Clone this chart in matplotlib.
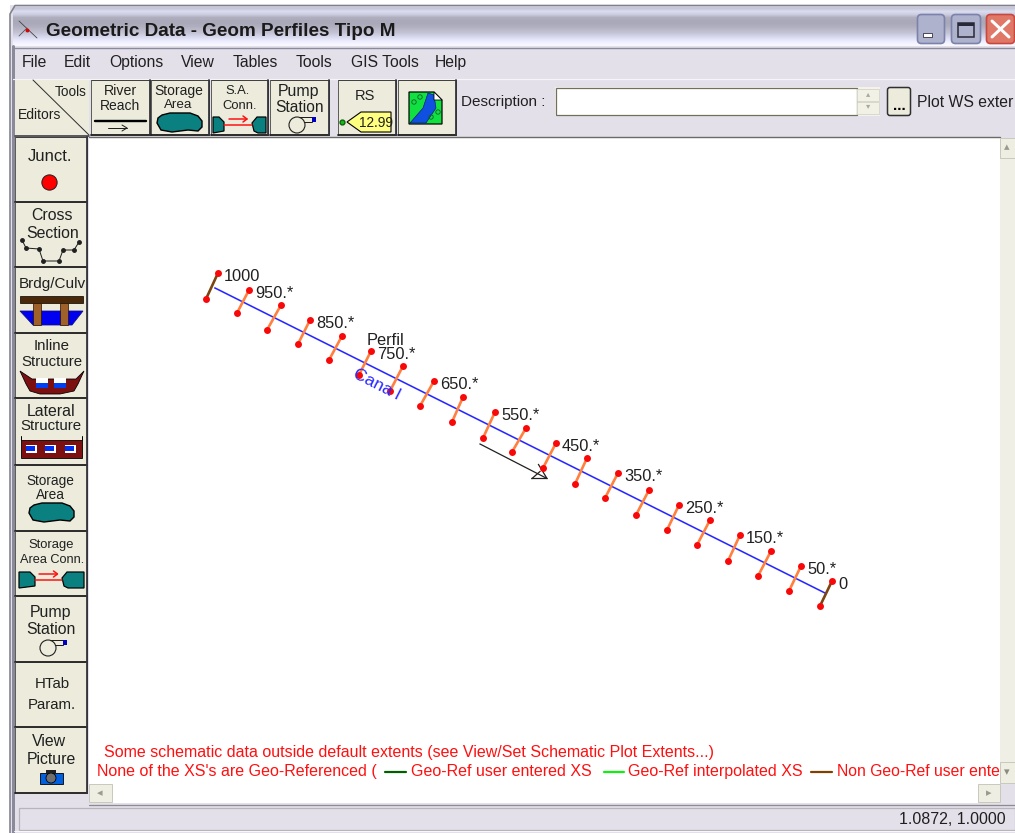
import numpy as np
import matplotlib
matplotlib.use("Agg")
import matplotlib.pyplot as plt
from matplotlib.patches import Rectangle, Polygon, Circle, FancyBboxPatch

W, H = 1015, 833
FONT = ["Liberation Sans", "DejaVu Sans"]

# ---- schematic data (screen units) ----
stations = [1000, 950, 900, 850, 800, 750, 700, 650, 600, 550, 500,
            450, 400, 350, 300, 250, 200, 150, 100, 50, 0]
xs_top_x = [218, 249, 281, 310, 342, 371, 403, 434, 463, 495, 526,
            556, 587, 618, 649, 679, 710, 740, 771, 801, 832]
xs_top_y = [273, 290, 305, 320, 336, 351, 366, 381, 397, 412, 428,
            443, 458, 473, 490, 505, 520, 535, 551, 566, 581]
xs_bot_x = [206, 237, 267, 298, 329, 359, 390, 420, 452, 483, 512,
            543, 575, 605, 636, 667, 697, 728, 758, 789, 820]
xs_bot_y = [299, 313, 330, 344, 360, 375, 391, 406, 422, 438, 452,
            468, 484, 498, 515, 530, 545, 561, 576, 591, 606]
xs_labels = {1000: "1000", 950: "950.*", 850: "850.*", 750: "750.*", 650: "650.*",
             550: "550.*", 450: "450.*", 350: "350.*", 250: "250.*", 150: "150.*",
             50: "50.*", 0: "0"}
reach_x = [215, 825]
reach_y = [288, 593]
flow_x = [480, 547]
flow_y = [444, 478.5]

menu_items = ["File", "Edit", "Options", "View", "Tables", "Tools", "GIS Tools", "Help"]
menu_x = [22, 64, 109, 181, 233, 296, 351, 435]

fig = plt.figure(figsize=(W / 100, H / 100), dpi=100, facecolor="white")
ax = fig.add_axes([0, 0, 1, 1])
ax.set_xlim(0, W)
ax.set_ylim(H, 0)
ax.axis("off")

BG = "#e4e0ea"
BTN = "#ecebdc"


def rect(x0, y0, x1, y1, fc, ec="none", lw=0.0, z=1):
    ax.add_patch(Rectangle((x0, y0), x1 - x0, y1 - y0, facecolor=fc, edgecolor=ec, linewidth=lw, zorder=z))


def line(xs, ys, c="black", lw=1.0, z=3):
    ax.plot(xs, ys, color=c, lw=lw * 0.72, zorder=z, solid_capstyle="round")


def txt(x, y, s, size=10.5, c="#202020", ha="left", va="center", weight="normal", rot=0, z=6):
    return ax.text(x, y, s, fontsize=size, color=c, ha=ha, va=va, family=FONT,
                   fontweight=weight, rotation=rot, rotation_mode="anchor", zorder=z)


def button(x0, y0, x1, y1):
    rect(x0, y0, x1, y1, BTN, z=2)
    line([x0, x1, x1], [y0, y0, y1], "#2e2e2e", 0.9, z=2.1)
    line([x0, x0], [y0, y1], "#50504c", 0.9, z=2.1)
    line([x0, x1], [y1, y1], "#1c1c1c", 1.8, z=2.1)
    line([x1, x1], [y0, y1], "#34343c", 1.8, z=2.1)


def poly(pts, fc, ec="black", lw=1.2, z=4):
    ax.add_patch(Polygon(pts, closed=True, facecolor=fc, edgecolor=ec, linewidth=lw * 0.72, zorder=z))


def blob(dx, dy):
    shape = [(157, 123), (158, 118), (162, 115), (170, 113), (190, 113), (198, 116),
             (202, 121), (202, 127), (198, 131), (188, 130), (172, 132), (161, 130)]
    poly([(x + dx, y + dy) for x, y in shape], "#0a8080", lw=1.4)


def sa_conn(x0, x1, yc, wl, wr, ya):
    poly([(x0, yc - 8), (x0 + wl - 5, yc - 8), (x0 + wl, yc - 3), (x0 + wl, yc + 6), (x0, yc + 8)], "#0a8080")
    poly([(x1, yc - 8), (x1 - wr + 5, yc - 8), (x1 - wr, yc - 2), (x1 - wr + 2, yc + 6), (x1 - wr + 6, yc + 8), (x1, yc + 8)], "#0a8080")
    line([x0 + wl, x1 - wr], [yc, yc], "#ff1010", 1.5, z=4)
    xm = (x0 + wl + x1 - wr) / 2
    line([xm - 9, xm + 9], [ya, ya], "#ff1010", 1.5, z=4)
    line([xm + 5, xm + 9, xm + 5], [ya - 3, ya, ya + 3], "#ff1010", 1.5, z=4)


def pump(cx, cy):
    ax.add_patch(Circle((cx, cy), 8, facecolor="none", edgecolor="#202020", lw=0.8, zorder=4))
    line([cx + 2, cx + 15], [cy - 8, cy - 8], "#202020", 1)
    line([cx + 7, cx + 15], [cy - 3, cy - 3], "#202020", 1)
    rect(cx + 15, cy - 8, cx + 19, cy - 3, "#0000c0", z=4)


# ---- window chrome ----
rect(10, 5, W, H, BG, z=0)
grad = np.array([0.80, 0.88, 0.82, 0.70, 0.68, 0.68, 0.70, 0.74, 0.78, 0.84, 0.90, 0.95, 0.99])
tint = np.stack([grad * 0.98, grad * 0.98, np.minimum(grad * 1.07, 1.0)], axis=-1)[:, None, :]
tint = np.repeat(tint, 2, axis=1)
ax.imshow(tint, extent=(13, W, 46, 7), aspect="auto", interpolation="bilinear", zorder=0.5)
ax.set_xlim(0, W)
ax.set_ylim(H, 0)
line([10, 10, 15, W], [H, 14, 5.5, 5.5], "#80808c", 1.6, z=1)
line([13, 13], [46, H], "#8a8a9a", 3, z=1)
line([13, W], [48, 48], "#8a8a9e", 1.4, z=1)
line([13, W], [79, 79], "#f6f4f8", 1.2, z=1)

# title bar
line([19, 37], [21, 38], "#404040", 0.8)
line([27, 19], [28, 36], "#505050", 0.8)
ax.plot([27], [30], "o", color="#e00000", ms=1.8, zorder=5)
txt(46, 31, "Geometric Data - Geom Perfiles Tipo M", size=13.6, weight="bold", c="#1a1a1a")

# window buttons
for x0, x1, c0, c1 in [(917, 945, "#aeb2cc", "#7c82ac"), (951, 981, "#aeb2cc", "#7c82ac"), (986, W, "#e07868", "#c84840")]:
    ax.add_patch(FancyBboxPatch((x0 + 3, 17), x1 - x0 - 6, 24, boxstyle="round,pad=2.5,rounding_size=4",
                                facecolor=c0, edgecolor=c1, linewidth=1.2, zorder=2))
rect(923, 33, 932, 37, "white", ec="#303040", lw=0.6, z=3)
rect(958, 23, 974, 37, "none", ec="#282838", lw=1.1, z=3)
rect(958, 23, 974, 26, "#282838", z=3)
line([992, 1009], [21, 37], "white", 3, z=3)
line([1009, 992], [21, 37], "white", 3, z=3)

# menu
for x, s in zip(menu_x, menu_items):
    txt(x, 67, s, size=11.3, va="baseline")

# top-left editors / tools box
rect(15, 80, 89, 135, BTN, z=1)
line([33, 89], [80, 135], "#303030", 1.0)
line([15, 89], [135.5, 135.5], "#303030", 1.5)
txt(55, 92, "Tools", size=9.8)
txt(18, 115, "Editors", size=10)

# top toolbar buttons
btns = [(91, 150), (151, 209), (211, 268), (270, 329), (338, 396), (398, 456)]
for x0, x1 in btns:
    button(x0, 80, x1, 135)
txt(120, 91, "River", size=10.2, ha="center")
txt(120, 106, "Reach", size=10, ha="center")
line([95, 146], [121, 121], "black", 2.4)
line([108, 127], [128, 128], "#202020", 1)
line([122, 127, 122], [125, 128, 131], "#202020", 1)
txt(179, 91, "Storage", size=10, ha="center")
txt(178, 105, "Area", size=9.6, ha="center")
blob(0, 0)
txt(238, 91, "S.A.", size=9.4, ha="center")
txt(240, 106, "Conn.", size=9.4, ha="center")
sa_conn(213, 266, 125, 11, 14, 119)
txt(299, 91, "Pump", size=11.4, ha="center")
txt(300, 107, "Station", size=11.2, ha="center")
pump(297, 125)
txt(365, 96, "RS", size=10.5, ha="center")
poly([(391, 112), (361, 112), (347, 122), (361, 132), (391, 132)], "#ffff80", lw=1.1)
txt(376, 122.5, "12.99", size=9.8, ha="center")
ax.plot([342], [122], "o", mfc="#10c010", mec="#106010", ms=3.5, zorder=5)

# map icon
poly([(409, 92), (434, 92), (442, 100), (442, 124), (409, 124)], "#10e040", lw=1.2)
poly([(410, 123), (423, 108), (428, 93), (434, 95), (436, 108), (426, 123)], "#1050e0", ec="#101070", lw=0.6, z=4.1)
poly([(434, 92), (442, 100), (434, 100)], "white", lw=0.8, z=4.2)
for cx, cy in [(414, 102), (438, 112), (431, 117), (420, 97)]:
    ax.add_patch(Circle((cx, cy), 2.2, facecolor="none", edgecolor="#106030", lw=0.6, zorder=4.3))

# description
txt(461, 102, "Description :", size=11)
rect(555, 87, 880, 116, "#f4f2ea", z=1)
rect(556, 88, 857, 115, "white", ec="#70705c", lw=0.9, z=1.5)
rect(857, 89, 879, 101, "#f2f1e6", ec="#d8d8cc", lw=0.7, z=1.5)
rect(857, 102, 879, 114, "#f2f1e6", ec="#d8d8cc", lw=0.7, z=1.5)
txt(868, 95, "\u25B4", size=6, ha="center", c="#a8a8a0")
txt(868, 107, "\u25BE", size=6, ha="center", c="#a8a8a0")
ax.add_patch(FancyBboxPatch((888, 88), 22, 27, boxstyle="round,pad=0.5,rounding_size=2.5",
                            facecolor=BTN, edgecolor="#303030", linewidth=1.1, zorder=2))
txt(899, 106, "...", size=11, ha="center", weight="bold", c="black")
txt(917, 102, "Plot WS exter", size=11.3)

# canvas
rect(89, 138, 1000, 784, "white", z=1)
line([89, 1000], [137, 137], "#6a6a66", 1.4, z=2)

# scrollbars
rect(1000, 138, W, 784, "#f0efe6", z=1)
rect(1000, 138, W, 158, "#eeeee2", ec="#c8c8bc", lw=0.7, z=2)
txt(1007, 147, "\u25B4", size=8, ha="center", c="#9a9a90")
rect(1000, 762, W, 783, "#eeeee2", ec="#c8c8bc", lw=0.7, z=2)
txt(1007, 772, "\u25BE", size=8, ha="center", c="#8a8a80")
rect(89, 783, 1000, 803, "white", z=1)
rect(89, 784, 112, 802, "#eeeee2", ec="#c8c8bc", lw=0.7, z=2)
rect(978, 784, 1000, 802, "#eeeee2", ec="#c8c8bc", lw=0.7, z=2)
txt(100, 793, "\u25C2", size=8, ha="center", c="#9a9a90")
txt(989, 793, "\u25B8", size=8, ha="center", c="#9a9a90")
line([89, 1015], [804.5, 804.5], "#8c8c90", 1.3, z=2)

# status bar
rect(19, 808, W, 830, BG, ec="#b8b4bc", lw=0.9, z=1)
txt(1006, 819, "1.0872, 1.0000", size=11.5, ha="right")
line([14, W], [831, 831], "#f8f8f8", 1, z=2)

# left editor buttons
ys = [137, 202, 267, 333, 398, 465, 531, 596, 662, 727, 793]
for y0, y1 in zip(ys[:-1], ys[1:]):
    button(15, y0, 87, y1)

txt(50, 156, "Junct.", size=12, ha="center")
ax.plot([49.5], [182], "o", mfc="#ff0000", mec="#202020", ms=11, mew=0.7, zorder=5)
txt(52, 215, "Cross", size=11.4, ha="center")
txt(53, 233, "Section", size=11.4, ha="center")
sec_x = [22, 26, 39, 43, 59, 63, 74, 79]
sec_y = [240, 248, 249, 261, 261, 250, 250, 242]
line(sec_x, sec_y, "#202020", 1.0)
ax.plot(sec_x, sec_y, "o", color="#202020", ms=2.5, zorder=5)

# bridge
txt(52, 284, "Brdg/Culv", size=11, ha="center")
poly([(20, 311), (83, 311), (72, 325), (33, 325)], "#0000f0", ec="#101080", lw=0.8)
rect(20, 296, 83, 303, "#4a2808", ec="black", lw=0.5, z=5)
rect(33, 303, 41, 325, "#a0602a", ec="#201000", lw=0.5, z=5)
rect(60, 303, 68, 325, "#a0602a", ec="#201000", lw=0.5, z=5)

# inline structure
txt(52, 346, "Inline", size=10.8, ha="center")
txt(52, 362, "Structure", size=10.8, ha="center")
poly([(20, 371), (32, 379), (76, 379), (84, 371), (78, 384), (74, 391), (60, 394), (40, 394), (30, 391), (26, 384)], "#7c1010", lw=0.8)
for x0 in (36, 54):
    rect(x0, 378, x0 + 12, 388, "white", z=5)
    rect(x0, 383, x0 + 12, 388, "#0040f0", z=5.1)

# lateral structure
txt(51, 411, "Lateral", size=11.4, ha="center")
txt(51, 426, "Structure", size=10.8, ha="center")
rect(21, 440, 82, 458, "#7c1010", ec="black", lw=0.6, z=4)
line([21, 21], [440, 436], "black", 1)
line([82, 82], [440, 436], "black", 1)
for x0 in (26, 45, 65):
    rect(x0, 445, x0 + 11, 453, "white", z=5)
    rect(x0, 446, x0 + 9, 451, "#0030f0", z=5.1)

# storage area
txt(50, 481, "Storage", size=9.8, ha="center")
txt(50, 495, "Area", size=9.8, ha="center")
blob(-128, 390)

# storage area conn
txt(51, 545, "Storage", size=9.4, ha="center")
txt(52, 560, "Area Conn.", size=9.2, ha="center")
sa_conn(19, 84, 580, 16, 22, 574)

# pump
txt(51, 612, "Pump", size=11.4, ha="center")
txt(51, 629, "Station", size=11.4, ha="center")
pump(48, 648)

# htab
txt(52, 684, "HTab", size=10.8, ha="center")
txt(52, 705, "Param.", size=10.8, ha="center")

# view picture
txt(49, 742, "View", size=11.4, ha="center")
txt(51, 759, "Picture", size=11.4, ha="center")
rect(40, 773, 63, 784, "#0060e0", ec="black", lw=0.6, z=4)
ax.add_patch(Circle((51, 778), 5, facecolor="#707070", edgecolor="black", lw=0.6, zorder=5))
rect(46, 770, 56, 773, "#202020", z=5)

# ---- schematic ----
ax.plot(reach_x, reach_y, color="#2828ff", lw=1.15, zorder=7)
for st, tx, ty, bx, by in zip(stations, xs_top_x, xs_top_y, xs_bot_x, xs_bot_y):
    col = "#7a4510" if st in (1000, 0) else "#ff8040"
    ax.plot([tx, bx], [ty, by], color=col, lw=1.9, zorder=8)
    ax.plot([tx, bx], [ty, by], "o", color="#f80808", ms=5, mew=0, zorder=9)
    if st in xs_labels:
        txt(tx + 6, ty + 8, xs_labels[st], size=11.8, z=10, va="baseline")
txt(367, 345, "Perfil", size=11.8, z=10, va="baseline")
txt(354, 373, "Cana l", size=12.5, c="#2828ff", rot=-27, z=9.5)

# flow arrow
ax.plot(flow_x, flow_y, color="#202020", lw=0.9, zorder=7)
ax.plot([flow_x[1] - 15, flow_x[1], flow_x[1] - 8.5], [flow_y[1], flow_y[1], flow_y[1] - 14],
        color="#202020", lw=0.9, zorder=7)
ax.plot([flow_x[1] - 15, flow_x[1] - 7], [flow_y[1], flow_y[1] - 7], color="#202020", lw=0.9, zorder=7)

# messages
MSG = 11.55
txt(104, 757, "Some schematic data outside default extents (see View/Set Schematic Plot Extents...)", size=MSG, c="#ff1010", va="baseline")
txt(97, 776, "None of the XS's are Geo-Referenced (", size=MSG, c="#ff1010", va="baseline")
line([385, 406], [771.5, 771.5], "#006000", 2.2, z=5)
txt(411, 776, "Geo-Ref user entered XS", size=MSG, c="#ff1010", va="baseline")
line([604, 624], [771.5, 771.5], "#10f010", 2.2, z=5)
txt(628, 776, "Geo-Ref interpolated XS", size=MSG, c="#ff1010", va="baseline")
line([811, 832], [771.5, 771.5], "#804000", 2.2, z=5)
txt(837, 776, "Non Geo-Ref user ente", size=MSG * 0.98, c="#ff1010", va="baseline")

fig.savefig("out.png", dpi=100, facecolor="white")
